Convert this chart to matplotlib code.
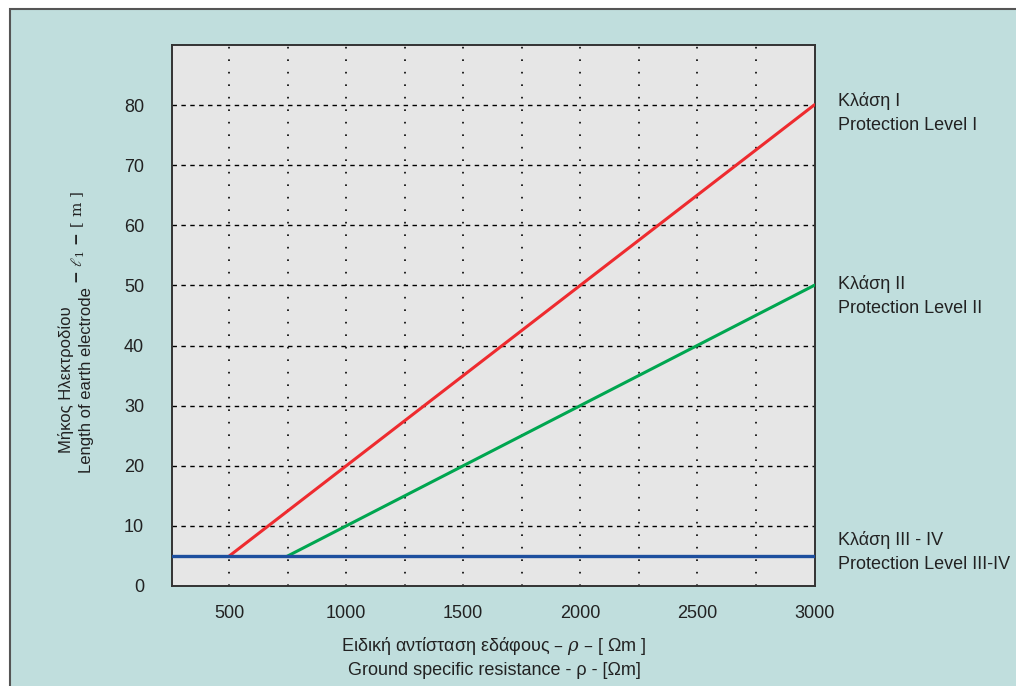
import matplotlib
matplotlib.use("Agg")
import matplotlib.pyplot as plt
from matplotlib.patches import Rectangle

# data
rho_class1 = [500, 3000]
len_class1 = [5, 80]
rho_class2 = [750, 3000]
len_class2 = [5, 50]
len_class34 = 5

x_ticks = [500, 1000, 1500, 2000, 2500, 3000]
y_ticks = [0, 10, 20, 30, 40, 50, 60, 70, 80]
x_grid = [500, 750, 1000, 1250, 1500, 1750, 2000, 2250, 2500, 2750]
y_grid = [10, 20, 30, 40, 50, 60, 70, 80]

labels = ["Κλάση I\nProtection Level I",
          "Κλάση II\nProtection Level II",
          "Κλάση III - IV\nProtection Level III-IV"]

plt.rcParams['font.family'] = ['Liberation Sans', 'DejaVu Sans']
plt.rcParams['mathtext.fontset'] = 'dejavuserif'

W, H = 1016, 686
fig = plt.figure(figsize=(W / 100, H / 100), dpi=100)
fig.patch.set_facecolor('white')
bg = Rectangle((10 / W, -0.01), 1.0, 1 - 9 / H + 0.01, transform=fig.transFigure,
               facecolor='#c0dedd', edgecolor='#555555', linewidth=1.5, zorder=-10)
fig.patches.append(bg)

ax = fig.add_axes([172 / W, 1 - 586 / H, 643 / W, 541 / H])
ax.set_facecolor('#e6e6e6')
ax.set_xlim(255, 3004)
ax.set_ylim(0, 90)

for g in x_grid:
    ax.axvline(g, color='black', linestyle=(0, (1, 6.5)), linewidth=1.2, zorder=1)
for g in y_grid:
    ax.axhline(g, color='black', linestyle=(0, (3.2, 3.2)), linewidth=1.0, zorder=1)

ax.plot(rho_class1, len_class1, color='#ee2b2f', linewidth=2.2, zorder=3)
ax.plot(rho_class2, len_class2, color='#00a650', linewidth=2.2, zorder=3)
ax.axhline(len_class34, color='#1d4f9e', linewidth=2.4, zorder=4)

ax.set_xticks(x_ticks)
ax.set_yticks(y_ticks)
ax.tick_params(length=0, labelsize=13, colors='#222222')
ax.tick_params(axis='x', pad=14)
ax.tick_params(axis='y', pad=20)
for s in ax.spines.values():
    s.set_color('#333333')
    s.set_linewidth(1.4)

# labels of the three protection levels
for txt, yc in zip(labels, [113, 296, 552]):
    fig.text(838 / W, 1 - yc / H, txt, ha='left', va='center', fontsize=13,
             color='#222222', linespacing=1.55)

# axis titles
fig.text(494 / W, 1 - 657 / H,
         "Ειδική αντίσταση εδάφους – $\\rho$ – [ Ωm ]\nGround specific resistance - ρ - [Ωm]",
         ha='center', va='center', fontsize=13, color='#222222', linespacing=1.4)
fig.text(76 / W, 1 - 380 / H, "Μήκος Ηλεκτροδίου\nLength of earth electrode",
         ha='center', va='center', rotation=90, fontsize=12, color='#222222',
         linespacing=1.45)
fig.text(78 / W, 1 - 238 / H, "$\\mathbf{-}\\ \\ell_1\\ \\mathbf{-}$ [ m ]",
         ha='center', va='center', rotation=90, fontsize=11, color='#222222',
         family='DejaVu Serif')

fig.savefig('out.png', dpi=100)
